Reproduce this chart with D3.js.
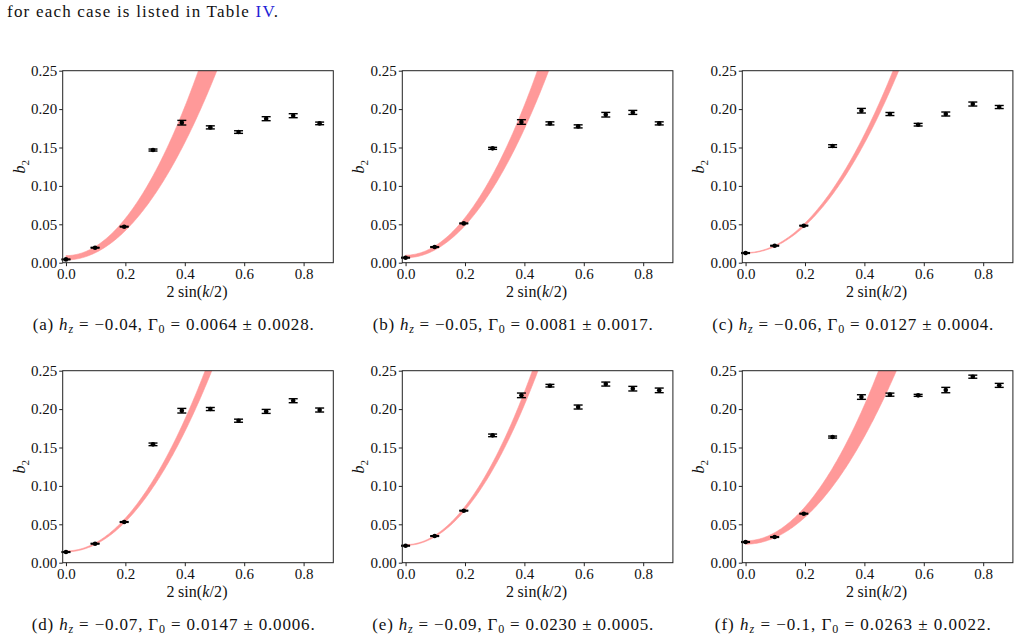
<!DOCTYPE html>
<html>
<head>
<meta charset="utf-8">
<title>b2 vs 2sin(k/2)</title>
<style>
  body { margin: 0; background: #fff; }
  svg text { font-family: "Liberation Serif", "DejaVu Serif", serif; fill: #111; }
</style>
</head>
<body>
<svg id="viz" width="1021" height="641"></svg>
<script src="https://cdn.jsdelivr.net/npm/d3@7"></script>
<script>
// momentum axis: 2 sin(k/2)
var xs = [0, 0.098, 0.196, 0.293, 0.390, 0.486, 0.581, 0.674, 0.765, 0.854];

// panel captions
var letters = ["a", "b", "c", "d", "e", "f"];
var hzText = ["\u22120.04", "\u22120.05", "\u22120.06", "\u22120.07", "\u22120.09", "\u22120.1"];
var gammaText = ["0.0064 \u00b1 0.0028", "0.0081 \u00b1 0.0017", "0.0127 \u00b1 0.0004",
                 "0.0147 \u00b1 0.0006", "0.0230 \u00b1 0.0005", "0.0263 \u00b1 0.0022"];
var capWidth = [281, 280, 281, 283, 281, 276];

// fit band: b2 = Gamma0 + c * x^2
var gamma0 = [0.0064, 0.0081, 0.0127, 0.0147, 0.0230, 0.0263];
var gammaErr = [0.0028, 0.0017, 0.0004, 0.0006, 0.0005, 0.0022];
var curvLo = [0.955, 1.049, 0.894, 0.978, 1.144, 0.876];
var curvHi = [1.211, 1.219, 0.961, 1.069, 1.242, 1.104];

// measured b2 and error bars
var b2a = [0.0043, 0.0195, 0.0469, 0.1467, 0.1823, 0.1762, 0.1701, 0.1875, 0.1914, 0.1814];
var erra = [0.0005, 0.0005, 0.0005, 0.0013, 0.0030, 0.0020, 0.0017, 0.0026, 0.0026, 0.0017];
var b2b = [0.0065, 0.0204, 0.0512, 0.1489, 0.1832, 0.1814, 0.1775, 0.1927, 0.1957, 0.1814];
var errb = [0.0005, 0.0005, 0.0005, 0.0013, 0.0030, 0.0020, 0.0020, 0.0030, 0.0026, 0.0020];
var b2c = [0.0126, 0.0221, 0.0482, 0.1519, 0.1979, 0.1936, 0.1797, 0.1936, 0.2066, 0.2027];
var errc = [0.0005, 0.0005, 0.0005, 0.0017, 0.0030, 0.0020, 0.0017, 0.0026, 0.0026, 0.0020];
var b2d = [0.0139, 0.0247, 0.0530, 0.1541, 0.1979, 0.2001, 0.1849, 0.1970, 0.2109, 0.1988];
var errd = [0.0005, 0.0005, 0.0005, 0.0017, 0.0030, 0.0020, 0.0020, 0.0026, 0.0026, 0.0026];
var b2e = [0.0221, 0.0347, 0.0677, 0.1658, 0.2179, 0.2305, 0.2027, 0.2326, 0.2266, 0.2244];
var erre = [0.0005, 0.0005, 0.0005, 0.0017, 0.0030, 0.0017, 0.0026, 0.0026, 0.0030, 0.0030];
var b2f = [0.0269, 0.0334, 0.0638, 0.1636, 0.2157, 0.2188, 0.2179, 0.2248, 0.2422, 0.2309];
var errf = [0.0005, 0.0005, 0.0005, 0.0013, 0.0030, 0.0020, 0.0013, 0.0035, 0.0020, 0.0026];

var b2All = [b2a, b2b, b2c, b2d, b2e, b2f];
var errAll = [erra, errb, errc, errd, erre, errf];

// ticks
var xTicks = [0, 0.2, 0.4, 0.6, 0.8];
var yTicks = [0, 0.05, 0.10, 0.15, 0.20, 0.25];

// layout
var lefts = [62.7, 402.3, 742.3], tops = [70.7, 370.7];
var pw = 270.6, ph = 192;
var serif = '"Liberation Serif", "DejaVu Serif", serif';

var svg = d3.select("#viz");

// line of text above the figure
var intro = svg.append("text").attr("x", 7).attr("y", 17)
  .attr("textLength", 271).attr("lengthAdjust", "spacing").style("font-size", "17px");
intro.append("tspan").text("for each case is listed in Table ");
intro.append("tspan").style("fill", "#1f1fd6").text("IV");
intro.append("tspan").text(".");

var x = d3.scaleLinear().domain([-0.011, 0.9]).range([0, pw]);
var y = d3.scaleLinear().domain([0, 0.25]).range([ph, 0]);

for (var p = 0; p < 6; p++) {
  var col = p % 3, row = Math.floor(p / 3);
  var g = svg.append("g").attr("transform", `translate(${lefts[col]},${tops[row]})`);

  g.append("clipPath").attr("id", "clip" + p)
    .append("rect").attr("width", pw).attr("height", ph);

  // fit band
  var xmax = Math.sqrt((0.26 - gamma0[p] + gammaErr[p]) / curvLo[p]);
  var grid = d3.range(0, 121).map(i => xmax * i / 120);
  var area = d3.area()
    .x(d => x(d))
    .y0(d => y(gamma0[p] - gammaErr[p] + curvLo[p] * d * d))
    .y1(d => y(gamma0[p] + gammaErr[p] + curvHi[p] * d * d));
  g.append("path").datum(grid)
    .attr("clip-path", `url(#clip${p})`)
    .attr("d", area)
    .attr("fill", "#ff9999")
    .attr("stroke", "#ff9999").attr("stroke-width", 0.6);

  // error bars
  var pts = xs.map((v, i) => ({x: v, y: b2All[p][i], e: errAll[p][i]}));
  var eb = g.append("g").attr("stroke", "#000").attr("stroke-width", 1.4);
  eb.selectAll(".v").data(pts).enter().append("line")
    .attr("x1", d => x(d.x)).attr("x2", d => x(d.x))
    .attr("y1", d => y(d.y - d.e)).attr("y2", d => y(d.y + d.e));
  eb.selectAll(".lo").data(pts).enter().append("line")
    .attr("x1", d => x(d.x) - 4.5).attr("x2", d => x(d.x) + 4.5)
    .attr("y1", d => y(d.y - d.e)).attr("y2", d => y(d.y - d.e));
  eb.selectAll(".hi").data(pts).enter().append("line")
    .attr("x1", d => x(d.x) - 4.5).attr("x2", d => x(d.x) + 4.5)
    .attr("y1", d => y(d.y + d.e)).attr("y2", d => y(d.y + d.e));
  g.selectAll("circle").data(pts).enter().append("circle")
    .attr("cx", d => x(d.x)).attr("cy", d => y(d.y))
    .attr("r", 2.3).attr("fill", "#000");

  // frame
  g.append("rect").attr("width", pw).attr("height", ph)
    .attr("fill", "none").attr("stroke", "#222").attr("stroke-width", 1);

  // axes
  var ax = g.append("g").attr("transform", `translate(0,${ph})`)
    .call(d3.axisBottom(x).tickValues(xTicks).tickFormat(d3.format(".1f")).tickSize(3.5).tickPadding(2));
  var ay = g.append("g")
    .call(d3.axisLeft(y).tickValues(yTicks).tickFormat(d3.format(".2f")).tickSize(3.5).tickPadding(2));
  [ax, ay].forEach(a => {
    a.attr("font-family", serif).attr("font-size", 15);
    a.select(".domain").remove();
    a.selectAll("line").attr("stroke", "#222");
    a.selectAll("text").style("font-family", serif).style("font-size", "15px").attr("fill", "#222");
  });

  // axis titles
  var xl = g.append("text").attr("x", pw / 2 - 1).attr("y", ph + 34)
    .attr("text-anchor", "middle").attr("textLength", 61).attr("lengthAdjust", "spacing")
    .style("font-size", "16px");
  xl.append("tspan").text("2\u2009sin(");
  xl.append("tspan").style("font-style", "italic").text("k");
  xl.append("tspan").text("/2)");

  var yl = g.append("text")
    .attr("transform", `translate(${-38},${ph / 2}) rotate(-90)`)
    .attr("text-anchor", "middle").style("font-size", "16px");
  yl.append("tspan").style("font-style", "italic").text("b");
  yl.append("tspan").attr("dy", 4).style("font-size", "11px").text("2");

  // caption
  var cap = svg.append("text")
    .attr("x", lefts[col] + 110.5).attr("y", tops[row] + 259)
    .attr("text-anchor", "middle")
    .attr("textLength", capWidth[p]).attr("lengthAdjust", "spacing")
    .style("font-size", "17px");
  cap.append("tspan").text(`(${letters[p]}) `);
  cap.append("tspan").style("font-style", "italic").text("h");
  cap.append("tspan").attr("dy", 3).style("font-size", "12px").style("font-style", "italic").text("z");
  cap.append("tspan").attr("dy", -3).text(` = ${hzText[p]}, \u0393`);
  cap.append("tspan").attr("dy", 3).style("font-size", "12px").text("0");
  cap.append("tspan").attr("dy", -3).text(` = ${gammaText[p]}.`);
}
</script>
</body>
</html>
